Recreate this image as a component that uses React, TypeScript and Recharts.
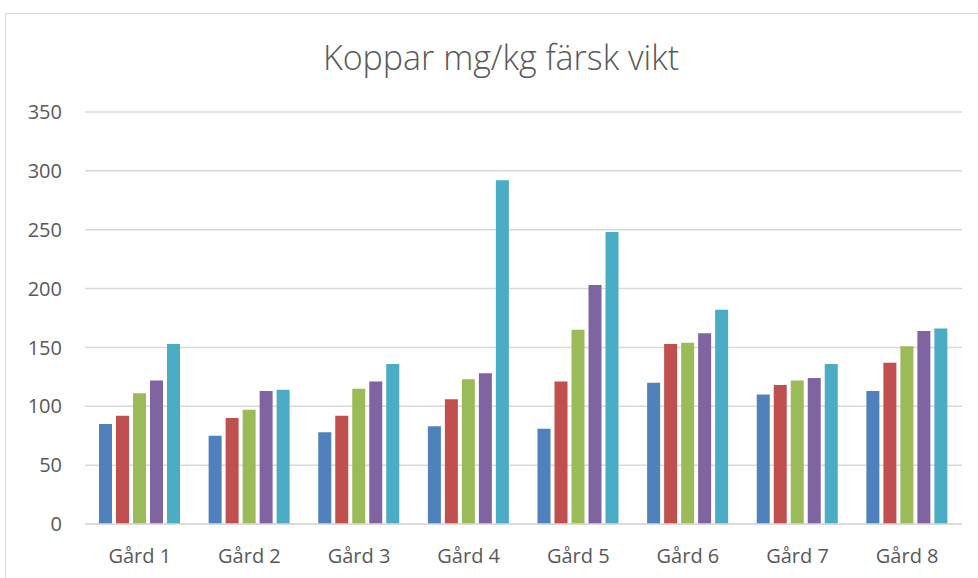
import { Bar, BarChart, CartesianGrid, XAxis, YAxis } from "recharts";

const farms = ["Gård 1", "Gård 2", "Gård 3", "Gård 4", "Gård 5", "Gård 6", "Gård 7", "Gård 8"];

const serie1 = [85, 75, 78, 83, 81, 120, 110, 113];
const serie2 = [92, 90, 92, 106, 121, 153, 118, 137];
const serie3 = [111, 97, 115, 123, 165, 154, 122, 151];
const serie4 = [122, 113, 121, 128, 203, 162, 124, 164];
const serie5 = [153, 114, 136, 292, 248, 182, 136, 166];

const yTicks = [0, 50, 100, 150, 200, 250, 300, 350];

const seriesNames = ["Serie 1", "Serie 2", "Serie 3", "Serie 4", "Serie 5"];
const seriesColors = ["#4F81BD", "#C0504D", "#9BBB59", "#8064A2", "#4BACC6"];

const allSeries = [serie1, serie2, serie3, serie4, serie5];

const data = farms.map((farm, i) => {
  const row: Record<string, string | number> = { farm };
  allSeries.forEach((s, k) => {
    row[seriesNames[k]] = s[i];
  });
  return row;
});

const tickStyle = { fill: "#595959", fontSize: 20, fontFamily: "'Open Sans', sans-serif" };

export default function App() {
  return (
    <div
      style={{
        position: "absolute",
        left: 0,
        top: 0,
        width: 978,
        height: 578,
        background: "#fff",
        overflow: "hidden",
      }}
    >
      {/* chart frame */}
      <div
        style={{
          position: "absolute",
          left: 5,
          top: 13,
          width: 1000,
          height: 600,
          border: "1px solid #d9d9d9",
        }}
      />
      <div
        style={{
          position: "absolute",
          left: 0,
          top: 34,
          width: 1002,
          textAlign: "center",
          fontFamily: "'Open Sans', sans-serif",
          fontWeight: 300,
          fontSize: 34,
          color: "#595959",
          lineHeight: "46px",
        }}
      >
        Koppar mg/kg färsk vikt
      </div>
      <div style={{ position: "absolute", left: 0, top: 0 }}>
        <BarChart
          width={978}
          height={578}
          data={data}
          margin={{ top: 112, right: 16, left: 25, bottom: 24 }}
          barSize={13}
          barGap={4}
        >
          <CartesianGrid vertical={false} stroke="#d9d9d9" strokeWidth={1.5} />
          <XAxis
            dataKey="farm"
            height={30}
            tick={tickStyle}
            tickLine={false}
            axisLine={{ stroke: "#d9d9d9", strokeWidth: 1.5 }}
            tickMargin={19}
          />
          <YAxis
            width={60}
            domain={[0, 350]}
            ticks={yTicks}
            tick={tickStyle}
            tickLine={false}
            axisLine={false}
            tickMargin={17}
            interval={0}
          />
          {seriesNames.map((name, k) => (
            <Bar
              key={name}
              dataKey={name}
              fill={seriesColors[k]}
              isAnimationActive={false}
            />
          ))}
        </BarChart>
      </div>
    </div>
  );
}
